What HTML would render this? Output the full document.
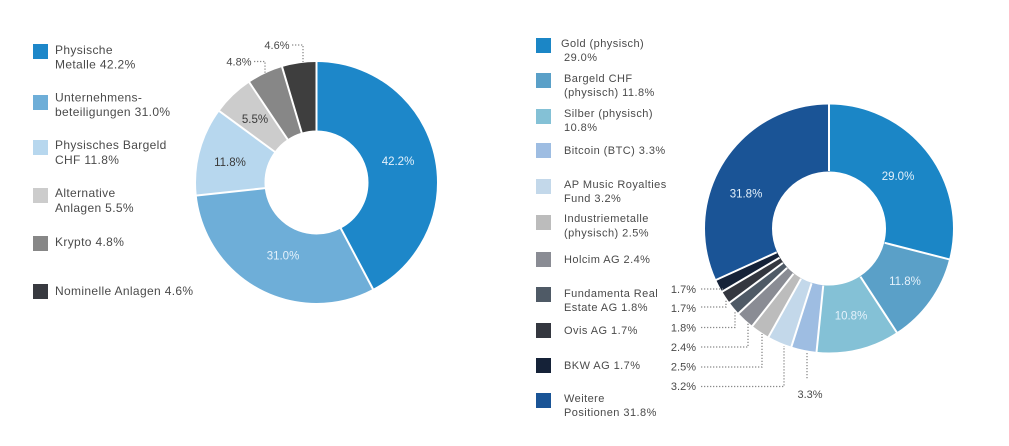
<!DOCTYPE html>
<html><head><meta charset="utf-8">
<style>
html,body{margin:0;padding:0;background:#fff;}
svg{display:block;}
text{font-family:"Liberation Sans",sans-serif;}
.lg{font-size:12px;fill:#4a4a4a;letter-spacing:0.35px;}
.lr{font-size:11px;fill:#4a4a4a;letter-spacing:0.45px;}
.pl{font-size:11px;fill:#4a4a4a;}
.pw{font-size:11.5px;fill:#e4f1fb;}
.pd{font-size:11.5px;fill:#3a3a3a;}
.dot{stroke:#8a8a8a;stroke-width:1.3;stroke-dasharray:1.3 1.7;fill:none;}
</style></head>
<body>
<svg width="1009" height="446" viewBox="0 0 1009 446" xmlns="http://www.w3.org/2000/svg">
<!-- LEFT LEGEND -->
<rect x="33" y="44" width="15" height="15" fill="#1d87c9"/>
<text class="lg" x="55" y="54">Physische</text>
<text class="lg" x="55" y="68.5">Metalle 42.2%</text>
<rect x="33" y="95" width="15" height="15" fill="#6eaed8"/>
<text class="lg" x="55" y="101.5">Unternehmens-</text>
<text class="lg" x="55" y="116">beteiligungen 31.0%</text>
<rect x="33" y="140" width="15" height="15" fill="#b7d7ee"/>
<text class="lg" x="55" y="149">Physisches Bargeld</text>
<text class="lg" x="55" y="164">CHF 11.8%</text>
<rect x="33" y="188" width="15" height="15" fill="#cccccc"/>
<text class="lg" x="55" y="197">Alternative</text>
<text class="lg" x="55" y="212">Anlagen 5.5%</text>
<rect x="33" y="236" width="15" height="15" fill="#878787"/>
<text class="lg" x="55" y="246">Krypto 4.8%</text>
<rect x="33" y="284" width="15" height="15" fill="#383a40"/>
<text class="lg" x="55" y="295">Nominelle Anlagen 4.6%</text>

<!-- LEFT DONUT -->
<g transform="rotate(-90 316.5 182.5)" fill="none" stroke-width="68.5">
<circle cx="316.5" cy="182.5" r="86.25" stroke="#1d87c9" stroke-dasharray="228.92 541.92" stroke-dashoffset="0"/>
<circle cx="316.5" cy="182.5" r="86.25" stroke="#6eaed8" stroke-dasharray="168.16 541.92" stroke-dashoffset="-228.92"/>
<circle cx="316.5" cy="182.5" r="86.25" stroke="#b7d7ee" stroke-dasharray="64.01 541.92" stroke-dashoffset="-397.08"/>
<circle cx="316.5" cy="182.5" r="86.25" stroke="#cccccc" stroke-dasharray="29.84 541.92" stroke-dashoffset="-461.09"/>
<circle cx="316.5" cy="182.5" r="86.25" stroke="#878787" stroke-dasharray="26.04 541.92" stroke-dashoffset="-490.93"/>
<circle cx="316.5" cy="182.5" r="86.25" stroke="#3e3e3e" stroke-dasharray="24.95 541.92" stroke-dashoffset="-516.97"/>
</g>
<g stroke="#fff" stroke-width="2">
<line x1="316.5" y1="131" x2="316.5" y2="61" transform="rotate(0 316.5 182.5)"/>
<line x1="316.5" y1="131" x2="316.5" y2="61" transform="rotate(152.07 316.5 182.5)"/>
<line x1="316.5" y1="131" x2="316.5" y2="61" transform="rotate(263.78 316.5 182.5)"/>
<line x1="316.5" y1="131" x2="316.5" y2="61" transform="rotate(306.31 316.5 182.5)"/>
<line x1="316.5" y1="131" x2="316.5" y2="61" transform="rotate(326.13 316.5 182.5)"/>
<line x1="316.5" y1="131" x2="316.5" y2="61" transform="rotate(343.42 316.5 182.5)"/>
</g>
<text class="pw" x="398" y="165" text-anchor="middle">42.2%</text>
<text class="pw" x="283" y="259.5" text-anchor="middle">31.0%</text>
<text class="pd" x="230" y="166" text-anchor="middle">11.8%</text>
<text class="pd" x="255" y="123" text-anchor="middle">5.5%</text>
<text class="pl" x="251.5" y="65.5" text-anchor="end">4.8%</text>
<text class="pl" x="289.5" y="49" text-anchor="end">4.6%</text>
<polyline class="dot" points="254,61.5 265,61.5 265,74"/>
<polyline class="dot" points="292,45 303,45 303,62"/>

<!-- RIGHT LEGEND -->
<rect x="536" y="38" width="15" height="15" fill="#1b86c6"/>
<text class="lr" x="561" y="47">Gold (physisch)</text>
<text class="lr" x="564" y="61">29.0%</text>
<rect x="536" y="73" width="15" height="15" fill="#5aa0c8"/>
<text class="lr" x="564" y="82">Bargeld CHF</text>
<text class="lr" x="564" y="96">(physisch) 11.8%</text>
<rect x="536" y="109" width="15" height="15" fill="#84c1d6"/>
<text class="lr" x="564" y="117">Silber (physisch)</text>
<text class="lr" x="564" y="131">10.8%</text>
<rect x="536" y="143" width="15" height="15" fill="#9ebde2"/>
<text class="lr" x="564" y="154">Bitcoin (BTC) 3.3%</text>
<rect x="536" y="179" width="15" height="15" fill="#c3d8ea"/>
<text class="lr" x="564" y="188">AP Music Royalties</text>
<text class="lr" x="564" y="202">Fund 3.2%</text>
<rect x="536" y="215" width="15" height="15" fill="#bcbcbc"/>
<text class="lr" x="564" y="222">Industriemetalle</text>
<text class="lr" x="564" y="236.5">(physisch) 2.5%</text>
<rect x="536" y="252" width="15" height="15" fill="#8a8c94"/>
<text class="lr" x="564" y="263">Holcim AG 2.4%</text>
<rect x="536" y="287" width="15" height="15" fill="#4f5a66"/>
<text class="lr" x="564" y="297">Fundamenta Real</text>
<text class="lr" x="564" y="311">Estate AG 1.8%</text>
<rect x="536" y="323" width="15" height="15" fill="#34373f"/>
<text class="lr" x="564" y="334">Ovis AG 1.7%</text>
<rect x="536" y="358" width="15" height="15" fill="#152238"/>
<text class="lr" x="564" y="369">BKW AG 1.7%</text>
<rect x="536" y="393" width="15" height="15" fill="#1a5496"/>
<text class="lr" x="564" y="402">Weitere</text>
<text class="lr" x="564" y="416">Positionen 31.8%</text>

<!-- RIGHT DONUT -->
<g transform="rotate(-90 829 228.5)" fill="none" stroke-width="67">
<circle cx="829" cy="228.5" r="90.5" stroke="#1b86c6" stroke-dasharray="164.90 568.63" stroke-dashoffset="0"/>
<circle cx="829" cy="228.5" r="90.5" stroke="#5aa0c8" stroke-dasharray="67.10 568.63" stroke-dashoffset="-164.90"/>
<circle cx="829" cy="228.5" r="90.5" stroke="#84c1d6" stroke-dasharray="61.41 568.63" stroke-dashoffset="-232.00"/>
<circle cx="829" cy="228.5" r="90.5" stroke="#9ebde2" stroke-dasharray="18.76 568.63" stroke-dashoffset="-293.41"/>
<circle cx="829" cy="228.5" r="90.5" stroke="#c3d8ea" stroke-dasharray="18.20 568.63" stroke-dashoffset="-312.17"/>
<circle cx="829" cy="228.5" r="90.5" stroke="#bcbcbc" stroke-dasharray="14.22 568.63" stroke-dashoffset="-330.37"/>
<circle cx="829" cy="228.5" r="90.5" stroke="#8a8c94" stroke-dasharray="13.65 568.63" stroke-dashoffset="-344.59"/>
<circle cx="829" cy="228.5" r="90.5" stroke="#4f5a66" stroke-dasharray="10.24 568.63" stroke-dashoffset="-358.24"/>
<circle cx="829" cy="228.5" r="90.5" stroke="#34373f" stroke-dasharray="9.67 568.63" stroke-dashoffset="-368.48"/>
<circle cx="829" cy="228.5" r="90.5" stroke="#152238" stroke-dasharray="9.67 568.63" stroke-dashoffset="-378.15"/>
<circle cx="829" cy="228.5" r="90.5" stroke="#1a5496" stroke-dasharray="180.83 568.63" stroke-dashoffset="-387.82"/>
</g>
<g stroke="#fff" stroke-width="2">
<line x1="829" y1="171" x2="829" y2="103" transform="rotate(0 829 228.5)"/>
<line x1="829" y1="171" x2="829" y2="103" transform="rotate(104.4 829 228.5)"/>
<line x1="829" y1="171" x2="829" y2="103" transform="rotate(146.88 829 228.5)"/>
<line x1="829" y1="171" x2="829" y2="103" transform="rotate(185.76 829 228.5)"/>
<line x1="829" y1="171" x2="829" y2="103" transform="rotate(197.64 829 228.5)"/>
<line x1="829" y1="171" x2="829" y2="103" transform="rotate(209.16 829 228.5)"/>
<line x1="829" y1="171" x2="829" y2="103" transform="rotate(218.16 829 228.5)"/>
<line x1="829" y1="171" x2="829" y2="103" transform="rotate(226.8 829 228.5)"/>
<line x1="829" y1="171" x2="829" y2="103" transform="rotate(233.28 829 228.5)"/>
<line x1="829" y1="171" x2="829" y2="103" transform="rotate(239.4 829 228.5)"/>
<line x1="829" y1="171" x2="829" y2="103" transform="rotate(245.52 829 228.5)"/>
</g>
<text class="pw" x="898" y="180" text-anchor="middle">29.0%</text>
<text class="pw" x="905" y="285" text-anchor="middle">11.8%</text>
<text class="pw" x="851" y="319.5" text-anchor="middle">10.8%</text>
<text class="pw" x="746" y="197.5" text-anchor="middle">31.8%</text>

<!-- leaders right -->
<text class="pl" x="696" y="293" text-anchor="end">1.7%</text>
<text class="pl" x="696" y="312" text-anchor="end">1.7%</text>
<text class="pl" x="696" y="331.5" text-anchor="end">1.8%</text>
<text class="pl" x="696" y="351" text-anchor="end">2.4%</text>
<text class="pl" x="696" y="370.5" text-anchor="end">2.5%</text>
<text class="pl" x="696" y="390" text-anchor="end">3.2%</text>
<text class="pl" x="810" y="398" text-anchor="middle">3.3%</text>
<polyline class="dot" points="701,289 723,289"/>
<polyline class="dot" points="701,307 726,307 726,300"/>
<polyline class="dot" points="701,327.5 735,327.5 735,312"/>
<polyline class="dot" points="701,347 748,347 748,323"/>
<polyline class="dot" points="701,367 762,367 762,334"/>
<polyline class="dot" points="701,386.5 784,386.5 784,346"/>
<polyline class="dot" points="807,353 807,380"/>
</svg>
</body></html>
